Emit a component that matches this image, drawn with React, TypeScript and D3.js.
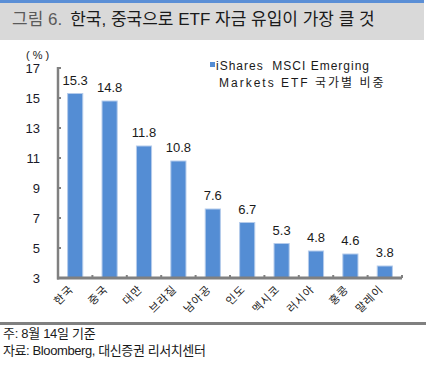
import React from "react";
import * as d3 from "d3";

const categories = ["한국", "중국", "대만", "브라질", "남아공", "인도", "멕시코", "러시아", "홍콩", "말레이"];
const values = [15.3, 14.8, 11.8, 10.8, 7.6, 6.7, 5.3, 4.8, 4.6, 3.8];
const yTicks = [3, 5, 7, 9, 11, 13, 15, 17];
const titlePrefix = "그림 6.";
const titleText = "한국, 중국으로 ETF 자금 유입이 가장 클 것";
const legendLines = ["iShares  MSCI Emerging", "Markets ETF 국가별 비중"];
const notes = ["주: 8월 14일 기준", "자료: Bloomberg, 대신증권 리서치센터"];

const FONT = "'Liberation Sans', Arial, 'Noto Sans CJK KR', sans-serif";

export default function App() {
  const W = 428, H = 366;
  const x0 = 58, x1 = 402;
  const yTop = 68, yBot = 278;
  const x = d3.scaleBand<string>().domain(categories).range([x0, x1]).paddingInner(0.56).paddingOuter(0.28);
  const step = (x1 - x0) / categories.length;
  const y = d3.scaleLinear().domain([3, 17]).range([yBot, yTop]);
  const barColor = "#548DD4";
  const axisColor = "#808080";

  return (
    <div style={{ position: "absolute", left: 0, top: 0, width: W, height: H }}>
      <svg width={W} height={H} style={{ display: "block", fontFamily: FONT }}>
        <rect x={0} y={0} width={W} height={H} fill="#fff" />
        {/* header */}
        <rect x={0} y={3} width={424} height={37} fill="#d9d9d9" />
        <rect x={0} y={0} width={424} height={3} fill="#5b8fd6" />
        <text x={12} y={25} fontSize={17} fill="#5a5a5a">
          {titlePrefix}
          <tspan dx={8} fill="#1a1a1a">{titleText}</tspan>
        </text>
        {/* unit */}
        <text x={26} y={59} fontSize={11} fill="#222" style={{ whiteSpace: "pre" }}>( % )</text>
        {/* y ticks */}
        {yTicks.map((t) => (
          <g key={t}>
            <text x={40} y={y(t) + 4.5} fontSize={13} textAnchor="end" fill="#1a1a2a">{t}</text>
            <line x1={x0} x2={x0 + 3} y1={y(t)} y2={y(t)} stroke={axisColor} strokeWidth={2} />
          </g>
        ))}
        {/* bars */}
        {categories.map((c, i) => (
          <g key={c}>
            <rect
              x={x(c)!}
              y={y(values[i])}
              width={x.bandwidth()}
              height={yBot - y(values[i])}
              fill={barColor}
              stroke="#b4cbeb"
              strokeWidth={1}
            />
            <text
              x={x(c)! + x.bandwidth() / 2}
              y={y(values[i]) - 9}
              fontSize={13}
              textAnchor="middle"
              fill="#1a1a1a"
            >
              {values[i].toFixed(1)}
            </text>
            <text
              transform={`translate(${x(c)! + x.bandwidth() / 2 - 1},${yBot + 12}) rotate(-45)`}
              fontSize={11}
              textAnchor="end"
              letterSpacing={1}
              fill="#1a1a1a"
            >
              {c}
            </text>
          </g>
        ))}
        {/* x ticks */}
        {categories.map((c, i) => (
          <line key={"t" + i} x1={x0 + step * (i + 1)} x2={x0 + step * (i + 1)} y1={yBot} y2={yBot - 3} stroke={axisColor} strokeWidth={2} />
        ))}
        {/* axes */}
        <line x1={x0} x2={x0} y1={yTop - 1} y2={yBot + 1.5} stroke={axisColor} strokeWidth={2.5} />
        <line x1={x0 - 1} x2={x1} y1={yBot} y2={yBot} stroke={axisColor} strokeWidth={3} />
        {/* legend */}
        <rect x={210} y={62} width={5} height={5} fill={barColor} />
        <text x={216} y={70} fontSize={12} letterSpacing={1} fill="#1a1a1a" style={{ whiteSpace: "pre" }}>{legendLines[0]}</text>
        <text x={219} y={87} fontSize={12} letterSpacing={2} fill="#1a1a1a">{legendLines[1]}</text>
        {/* bottom rule */}
        <rect x={0} y={322} width={426} height={3} fill={axisColor} />
        <text x={3} y={338} fontSize={13} letterSpacing={-0.3} fill="#1a1a1a">{notes[0]}</text>
        <text x={3} y={355} fontSize={13} letterSpacing={-0.4} fill="#1a1a1a">{notes[1]}</text>
      </svg>
    </div>
  );
}
